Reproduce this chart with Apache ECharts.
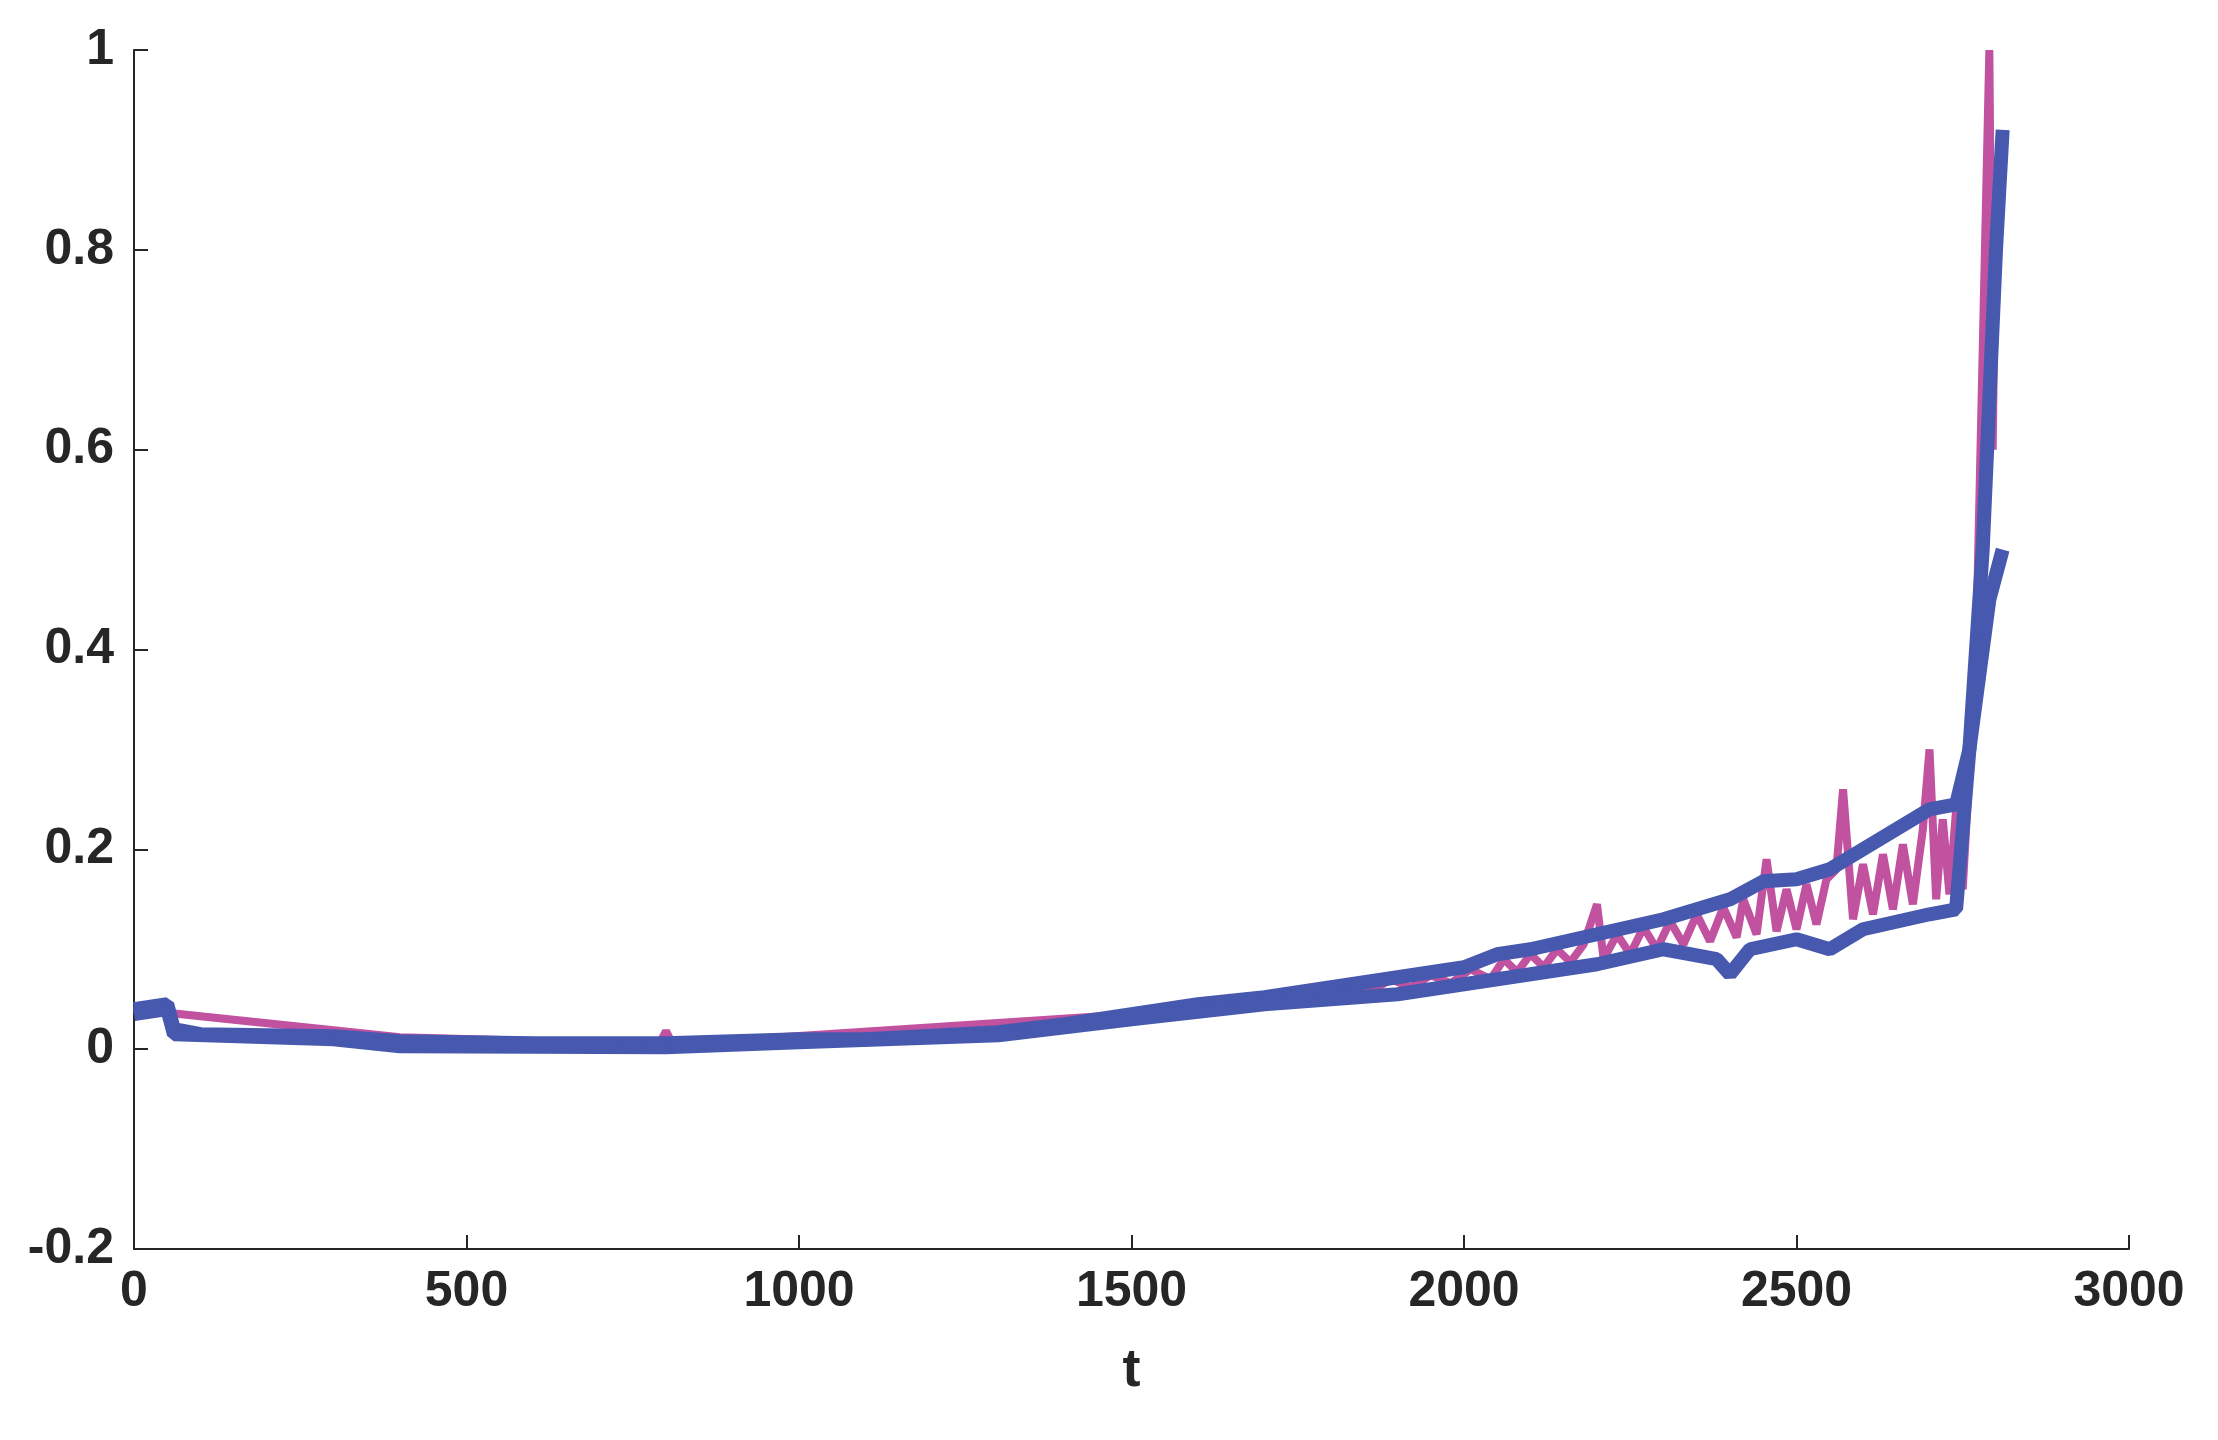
<!DOCTYPE html>
<html>
<head>
<meta charset="UTF-8">
<title>t</title>
<script src="https://cdn.jsdelivr.net/npm/echarts@6/dist/echarts.min.js"></script>
<style>html,body{margin:0;background:#fff}#chart{width:2218px;height:1440px}</style>
</head>
<body>
<div id="chart"></div>
<script>
// 上包络线 (t, y)
const upperT = [0,50,60,100,300,400,600,800,1000,1100,1300,1400,1500,1600,1700,1800,1900,2000,2050,2100,2200,2300,2400,2450,2500,2550,2600,2650,2700,2740,2760,2780,2800,2810];
const upperY = [0.04,0.045,0.02,0.015,0.013,0.008,0.006,0.006,0.01,0.01,0.017,0.025,0.035,0.045,0.052,0.062,0.072,0.082,0.095,0.1,0.115,0.13,0.15,0.168,0.17,0.18,0.2,0.22,0.24,0.245,0.3,0.5,0.8,0.92];
// 下包络线
const lowerT = [0,50,60,300,400,800,1000,1300,1500,1700,1900,2000,2100,2200,2300,2380,2400,2430,2500,2550,2600,2700,2740,2760,2790,2810];
const lowerY = [0.035,0.04,0.015,0.01,0.003,0.002,0.007,0.014,0.03,0.045,0.055,0.065,0.075,0.085,0.1,0.09,0.075,0.1,0.11,0.1,0.12,0.135,0.14,0.3,0.45,0.5];
// 振荡信号
const midT = [0,400,790,800,810,1500,1800,1830,1860,1890,1920,1950,1980,2010,2040,2060,2080,2100,2120,2140,2160,2180,2200,2210,2230,2250,2270,2290,2310,2330,2350,2370,2390,2410,2420,2440,2455,2470,2485,2500,2515,2530,2545,2560,2570,2585,2600,2615,2630,2645,2660,2675,2690,2700,2710,2720,2730,2740,2750,2770,2790,2795,2800,2810];
const midY = [0.04,0.012,0.005,0.018,0.005,0.035,0.06,0.064,0.058,0.07,0.062,0.074,0.066,0.08,0.07,0.09,0.077,0.095,0.082,0.1,0.087,0.105,0.145,0.09,0.115,0.095,0.122,0.1,0.128,0.105,0.135,0.108,0.142,0.112,0.15,0.115,0.19,0.118,0.16,0.12,0.165,0.125,0.17,0.18,0.26,0.13,0.185,0.135,0.195,0.14,0.205,0.145,0.22,0.3,0.15,0.23,0.155,0.24,0.16,0.4,1.0,0.6,0.85,0.9];

const zip = (a, b) => a.map((v, i) => [v, b[i]]);
const font = {fontFamily:'Liberation Sans', fontWeight:'bold', fontSize:50, color:'#262626'};
const chart = echarts.init(document.getElementById('chart'));
chart.setOption({
  animation:false,
  grid:{left:134, right:89, top:50, bottom:191},
  xAxis:{type:'value', min:0, max:3000, interval:500, name:'t', nameLocation:'middle', nameGap:95,
    nameTextStyle:{...font, fontSize:54},
    axisLine:{onZero:false, lineStyle:{color:'#262626', width:2}}, axisTick:{inside:true, length:14, lineStyle:{color:'#262626',width:2}},
    axisLabel:{...font, margin:18, formatter:v => String(v)}, splitLine:{show:false}},
  yAxis:{type:'value', min:-0.2, max:1, interval:0.2,
    axisLine:{show:true, lineStyle:{color:'#262626', width:2}}, axisTick:{show:true, inside:true, length:14, lineStyle:{color:'#262626',width:2}},
    axisLabel:{...font, margin:20, formatter:v => Number(v.toFixed(1)).toString()}, splitLine:{show:false}},
  series:[
    {type:'line', data:zip(midT, midY), showSymbol:false, lineStyle:{color:'#c052a0', width:8}},
    {type:'line', data:zip(upperT, upperY), showSymbol:false, lineStyle:{color:'#4659ae', width:14}},
    {type:'line', data:zip(lowerT, lowerY), showSymbol:false, lineStyle:{color:'#4659ae', width:14}}
  ]
});
</script>
</body>
</html>
